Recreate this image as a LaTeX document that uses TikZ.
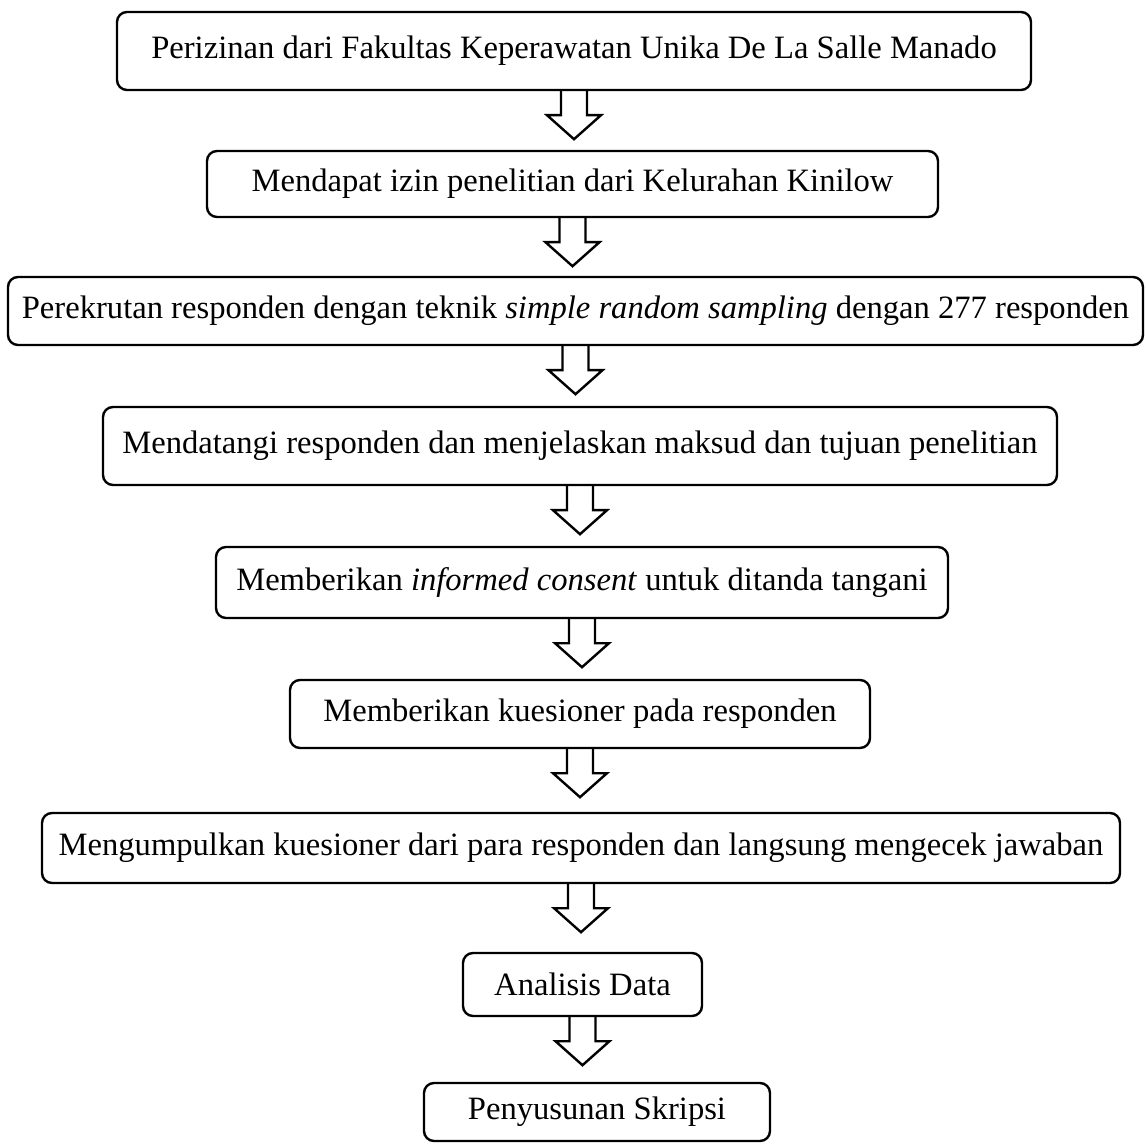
\documentclass[tikz,border=0pt]{standalone}
\usepackage{fontspec}
\setmainfont{Liberation Serif}
\usetikzlibrary{calc}
\tikzset{
  stepbox/.style={draw, line width=1.2pt, rounded corners=5pt, inner sep=0pt, align=center,
    font=\fontsize{16.3}{19}\selectfont},
  flowarr/.style={draw, line width=1.2pt, line join=miter}
}
\newcommand\flowarrow[1]{%
  \draw[flowarr] ($(#1.south)+(-13,0)$) -- ++(0,24) -- ++(-14,0) -- ($(#1.south)+(0,48)$)
    -- ($(#1.south)+(27,24)$) -- ++(-14,0) -- ++(0,-24);}
\begin{document}
\begin{tikzpicture}[x=0.5pt,y=-0.5pt]
\useasboundingbox (0,0) rectangle (1146,1144);
\node[stepbox, minimum width=457pt, minimum height=39pt] (b1) at (574,51)
  {Perizinan dari Fakultas Keperawatan Unika De La Salle Manado};
\node[stepbox, minimum width=365.5pt, minimum height=33pt] (b2) at (572.5,184)
  {Mendapat izin penelitian dari Kelurahan Kinilow};
\node[stepbox, minimum width=567.5pt, minimum height=34pt] (b3) at (575.5,311)
  {Perekrutan responden dengan teknik \textit{simple random sampling} dengan 277 responden};
\node[stepbox, minimum width=477pt, minimum height=39pt] (b4) at (580,446)
  {Mendatangi responden dan menjelaskan maksud dan tujuan penelitian};
\node[stepbox, minimum width=366pt, minimum height=35.5pt] (b5) at (582,582.5)
  {Memberikan \textit{informed consent} untuk ditanda tangani};
\node[stepbox, minimum width=290pt, minimum height=34pt] (b6) at (580,714)
  {Memberikan kuesioner pada responden};
\node[stepbox, minimum width=539pt, minimum height=35pt] (b7) at (581,848)
  {Mengumpulkan kuesioner dari para responden dan langsung mengecek jawaban};
\node[stepbox, minimum width=119.5pt, minimum height=31.5pt] (b8) at (582.5,984.5)
  {Analisis Data};
\node[stepbox, minimum width=173pt, minimum height=29pt] (b9) at (597,1112)
  {Penyusunan Skripsi};
\flowarrow{b1}
\flowarrow{b2}
\flowarrow{b3}
\flowarrow{b4}
\flowarrow{b5}
\flowarrow{b6}
\flowarrow{b7}
\flowarrow{b8}
\end{tikzpicture}
\end{document}
